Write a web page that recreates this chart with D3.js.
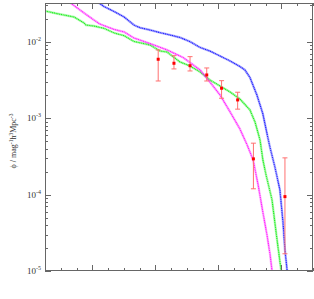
<!DOCTYPE html>
<html><head><meta charset="utf-8">
<script src="https://cdn.jsdelivr.net/npm/d3@7"></script>
<style>body{margin:0;background:#fff}svg{display:block}</style>
</head><body>
<script>
// Observations (points with error bars)
const obsMag = [-19.09, -19.59, -20.10, -20.63, -21.10, -21.61, -22.11, -23.11];
const obsPhi = [5.89e-3, 5.22e-3, 4.85e-3, 3.67e-3, 2.46e-3, 1.73e-3, 2.93e-4, 9.4e-5];
const obsLo  = [3.06e-3, 4.40e-3, 4.14e-3, 3.06e-3, 1.82e-3, 1.31e-3, 1.19e-4, 1.68e-5];
const obsHi  = [7.80e-3, 6.56e-3, 6.37e-3, 4.53e-3, 3.09e-3, 2.18e-3, 4.70e-4, 3.02e-4];

// Model curves: magnitude and log10(phi)
const greenMag = [-15.50,-15.94,-16.42,-16.74,-16.80,-17.05,-17.37,-17.69,-18.01,-18.32,-18.83,-19.15,-19.37,-19.78,-20.10,-20.42,-20.73,-21.05,-21.37,-21.68,-22.00,-22.16,-22.32,-22.41,-22.51,-22.70,-22.86,-22.99];
const greenLog = [-1.599,-1.638,-1.677,-1.756,-1.782,-1.795,-1.825,-1.886,-1.922,-1.997,-2.043,-2.122,-2.135,-2.265,-2.318,-2.396,-2.501,-2.579,-2.658,-2.749,-2.893,-3.050,-3.285,-3.546,-3.742,-4.069,-4.592,-4.997];

const magentaMag = [-16.31,-16.74,-17.05,-17.24,-17.69,-18.01,-18.32,-18.83,-19.37,-19.88,-20.42,-20.73,-21.05,-21.37,-21.68,-21.91,-22.10,-22.26,-22.38,-22.54,-22.64,-22.70];
const magentaLog = [-1.494,-1.625,-1.716,-1.769,-1.840,-1.873,-1.952,-2.024,-2.108,-2.207,-2.370,-2.527,-2.697,-2.919,-3.141,-3.350,-3.546,-3.873,-4.161,-4.527,-4.788,-4.997];

const blueMag = [-17.21,-17.37,-17.69,-18.01,-18.32,-18.51,-18.83,-19.15,-19.46,-19.78,-20.10,-20.42,-20.73,-21.05,-21.37,-21.68,-21.84,-22.00,-22.22,-22.41,-22.57,-22.64,-22.79,-22.95,-23.05,-23.11,-23.18];
const blueLog = [-1.494,-1.540,-1.605,-1.677,-1.782,-1.817,-1.847,-1.882,-1.912,-1.945,-2.000,-2.076,-2.122,-2.187,-2.252,-2.324,-2.370,-2.468,-2.697,-2.945,-3.259,-3.389,-3.637,-3.938,-4.370,-4.723,-4.997];

const xMajor = [-17, -19, -21, -23];
const yMajor = [1e-2, 1e-3, 1e-4, 1e-5];
const yMajorExp = ["-2", "-3", "-4", "-5"];
const yLabel = ["ϕ / mag", "-1", "h", "3", "Mpc", "-3"];

const W = 314, H = 299;
const L = 45, R = 313, T = 3, B = 271;
const svg = d3.select("body").append("svg").attr("width", W).attr("height", H);

const x = d3.scaleLinear().domain([-15.5, -24]).range([L, R]);
const y = d3.scaleLog().domain([1e-5, 10 ** -1.494]).range([B, T]);

const clip = svg.append("clipPath").attr("id", "c").append("rect")
  .attr("x", L).attr("y", T).attr("width", R - L).attr("height", B - T);

const g = svg.append("g").attr("clip-path", "url(#c)");
const line = d3.line().x(d => x(d[0])).y(d => y(Math.pow(10, d[1])));

function curve(mags, logs, col) {
  const pts = mags.map((m, i) => [m, logs[i]]);
  g.append("path").attr("d", line(pts)).attr("fill", "none")
    .attr("stroke", col).attr("stroke-width", 2.4).attr("stroke-opacity", 0.3);
  g.append("path").attr("d", line(pts)).attr("fill", "none")
    .attr("stroke", col).attr("stroke-width", 1.2).attr("stroke-dasharray", "1.2,0.6");
}
curve(greenMag, greenLog, "#22ee22");
curve(magentaMag, magentaLog, "#ff22ff");
curve(blueMag, blueLog, "#2222ff");

// error bars
obsMag.forEach((m, i) => {
  const cx = x(m);
  g.append("line").attr("x1", cx).attr("x2", cx).attr("y1", y(obsLo[i])).attr("y2", y(obsHi[i]))
    .attr("stroke", "#ff7070").attr("stroke-width", 1);
  [obsLo[i], obsHi[i]].forEach(v => {
    g.append("line").attr("x1", cx - 2.5).attr("x2", cx + 2.5).attr("y1", y(v)).attr("y2", y(v))
      .attr("stroke", "#ff7070").attr("stroke-width", 1);
  });
  g.append("rect").attr("x", cx - 1.5).attr("y", y(obsPhi[i]) - 1.5).attr("width", 3).attr("height", 3)
    .attr("fill", "#ff0000");
});

// frame
const ax = svg.append("g").attr("stroke", "#666").attr("stroke-width", 1);
ax.append("rect").attr("x", L + 0.5).attr("y", T + 0.5).attr("width", R - L - 1).attr("height", B - T - 1)
  .attr("fill", "none");

// x ticks
const xMinor = d3.range(-16, -24.01, -0.5);
xMinor.forEach(v => {
  const major = xMajor.includes(v);
  const len = major ? 6 : 3;
  const px = Math.round(x(v)) + 0.5;
  ax.append("line").attr("x1", px).attr("x2", px).attr("y1", B).attr("y2", B - len);
  ax.append("line").attr("x1", px).attr("x2", px).attr("y1", T).attr("y2", T + len);
});

// y ticks
const yTicks = y.ticks();
yTicks.forEach(v => {
  const major = yMajor.some(m => Math.abs(m - v) / m < 1e-6);
  const len = major ? 6 : 3;
  const py = Math.round(y(v)) + 0.5;
  if (py < T || py > B + 1) return;
  ax.append("line").attr("x1", L).attr("x2", L + len).attr("y1", py).attr("y2", py);
  ax.append("line").attr("x1", R).attr("x2", R - len).attr("y1", py).attr("y2", py);
});

// y tick labels
yMajor.forEach((v, i) => {
  const t = svg.append("text").attr("x", 41).attr("y", y(v) + 3)
    .attr("text-anchor", "end").attr("font-family", "Liberation Serif, DejaVu Serif, serif")
    .attr("font-size", 9).attr("fill", "#333");
  t.append("tspan").text("10");
  t.append("tspan").attr("font-size", 6).attr("dy", -4).text(yMajorExp[i]);
});

// y axis label
const lab = svg.append("text").attr("transform", `translate(16,${(T + B) / 2 + 4}) rotate(-90)`)
  .attr("text-anchor", "middle").attr("font-family", "Liberation Serif, DejaVu Serif, serif")
  .attr("font-size", 8).attr("fill", "#333");
lab.append("tspan").text(yLabel[0]);
lab.append("tspan").attr("font-size", 5.5).attr("dy", -3).text(yLabel[1]);
lab.append("tspan").attr("dy", 3).text(yLabel[2]);
lab.append("tspan").attr("font-size", 5.5).attr("dy", -3).text(yLabel[3]);
lab.append("tspan").attr("dy", 3).text(yLabel[4]);
lab.append("tspan").attr("font-size", 5.5).attr("dy", -3).text(yLabel[5]);
</script>
</body></html>
